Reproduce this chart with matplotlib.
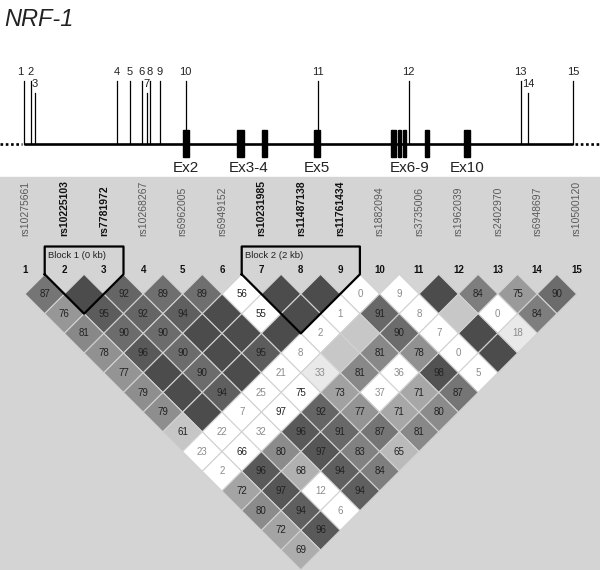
import numpy as np
import matplotlib.pyplot as plt
from matplotlib.patches import Polygon, Rectangle

plt.rcParams['font.family'] = ['Liberation Sans', 'DejaVu Sans']

# ---- gene diagram data (positions along the drawn gene line) ----
snp_pos = [23.7, 30.6, 34.8, 116.7, 130, 141.6, 146.6, 150, 160, 185.6,
           317.6, 408.7, 520.5, 528, 573]
snp_low = [3, 7, 14]          # snps whose label sits lower
exon_start = [182.5, 237, 262, 314, 391, 398, 402.6, 424.8, 464]
exon_end = [188.7, 244, 267, 320, 396, 401, 405.7, 428.6, 470]
exon_labels = ['Ex2', 'Ex3-4', 'Ex5', 'Ex6-9', 'Ex10']
exon_label_pos = [185.6, 249, 317, 409.5, 467.6]

# ---- LD plot data ----
rs_names = ['rs10275661', 'rs10225103', 'rs7781972', 'rs10268267', 'rs6962005',
            'rs6949152', 'rs10231985', 'rs11487138', 'rs11761434', 'rs1882094',
            'rs3735006', 'rs1962039', 'rs2402970', 'rs6948697', 'rs10500120']
bold_snps = [2, 3, 7, 8, 9]
blocks = [(2, 3, 'Block 1 (0 kb)'), (7, 9, 'Block 2 (2 kb)')]

# D' (x100) by SNP distance; 100 = D'=1 (no number shown)
dprime = [
    [87, 100, 92, 89, 89, 56, 100, 100, 0, 9, 100, 84, 75, 90],
    [76, 95, 92, 94, 100, 55, 100, 1, 91, 8, 100, 0, 84],
    [81, 90, 90, 100, 100, 100, 2, 100, 90, 7, 100, 18],
    [78, 96, 90, 100, 95, 8, 100, 81, 78, 0, 100],
    [77, 100, 90, 100, 21, 33, 81, 36, 98, 5],
    [79, 100, 94, 25, 75, 73, 37, 71, 87],
    [79, 100, 7, 97, 92, 77, 71, 80],
    [61, 22, 32, 96, 91, 87, 81],
    [23, 66, 80, 97, 83, 65],
    [2, 96, 68, 94, 84],
    [72, 97, 12, 94],
    [80, 94, 6],
    [72, 96],
    [69],
]
# LOD >= 2 flags, same layout
lod_high = [
    [1, 1, 1, 1, 1, 0, 1, 1, 0, 0, 1, 1, 1, 1],
    [1, 1, 1, 1, 1, 0, 1, 0, 1, 0, 0, 0, 1],
    [1, 1, 1, 1, 1, 1, 0, 0, 1, 0, 1, 1],
    [1, 1, 1, 1, 1, 0, 0, 1, 1, 0, 1],
    [1, 1, 1, 1, 0, 1, 1, 0, 1, 0],
    [1, 1, 1, 0, 0, 1, 0, 1, 1],
    [1, 1, 0, 0, 1, 1, 1, 1],
    [1, 0, 0, 1, 1, 1, 1],
    [0, 0, 1, 1, 1, 1],
    [0, 1, 1, 1, 1],
    [1, 1, 0, 1],
    [1, 1, 0],
    [1, 1],
    [1],
]


def cell_color(d, strong):
    # haploview standard scheme, shown in grey
    if not strong:
        return '#c7c7c7' if d == 100 else 'white'
    if d < 50:
        return '#e9e9e9'
    g = 223 * 2 * (1 - d / 100)
    lum = (0.299 * 255 + 0.701 * g) / 255
    return str(min(lum, 1))


fig = plt.figure(figsize=(6, 5.7), dpi=100)
ax = fig.add_axes([0, 0, 1, 1])
ax.set_xlim(0, 600)
ax.set_ylim(570, 0)
ax.axis('off')

ax.text(4, 19, 'NRF-1', fontsize=17, style='italic', va='center', ha='left', color='#222222')

# gene line
gene_y = 143.5
ax.plot([snp_pos[0], snp_pos[-1]], [gene_y, gene_y], color='black', lw=1.9, solid_capstyle='butt')
ax.plot([0, snp_pos[0] - 2], [gene_y, gene_y], color='black', lw=1.9, ls=(0, (1, 1)))
ax.plot([snp_pos[-1] + 2, 600], [gene_y, gene_y], color='black', lw=1.9, ls=(0, (1, 1)))
for s, e in zip(exon_start, exon_end):
    ax.add_patch(Rectangle((s, 129.5), e - s, 27.5, color='black', zorder=3))
for lab, xp in zip(exon_labels, exon_label_pos):
    ax.text(xp, 168, lab, fontsize=11, ha='center', va='center', color='#222222')

for n, xp in enumerate(snp_pos, start=1):
    top = 93 if n in snp_low else 81
    ax.plot([xp, xp], [gene_y, top], color='black', lw=0.9)
    lx = xp - 3 if n == 1 else xp
    ax.text(lx, top - 9, str(n), fontsize=8, ha='center', va='center', color='#222222')

# LD panel
ax.add_patch(Rectangle((0, 177), 600, 393, color='#d4d4d4', zorder=0))

x0, dx = 25, 39.4
h = dx / 2
y_top = 294 - h
xcol = [x0 + i * dx for i in range(len(rs_names))]

for i, name in enumerate(rs_names):
    b = (i + 1) in bold_snps
    ax.text(xcol[i], 236, name, rotation=90, ha='center', va='bottom', fontsize=7.5,
            fontweight='bold' if b else 'normal', color='#111111' if b else '#5a5a5a')
    ax.text(xcol[i], 270, str(i + 1), fontsize=7, fontweight='bold', ha='center',
            va='center', color='#111111')

for k, (row, lods) in enumerate(zip(dprime, lod_high), start=1):
    for i, (d, s) in enumerate(zip(row, lods)):
        j = i + k
        cx = (xcol[i] + xcol[j]) / 2
        cy = y_top + k * h
        verts = [(cx, cy - h), (cx + h, cy), (cx, cy + h), (cx - h, cy)]
        ax.add_patch(Polygon(verts, closed=True, facecolor=cell_color(d, s),
                             edgecolor='#d2d2d2', lw=0.8, zorder=2))
        if d < 100:
            ax.text(cx, cy, str(d), fontsize=7, ha='center', va='center',
                    color='#8c8c8c' if d < 50 else '#222222', zorder=4)

for a, b, lab in blocks:
    a0, b0 = a - 1, b - 1
    left, right = xcol[a0] - h, xcol[b0] + h
    bx = (xcol[a0] + xcol[b0]) / 2
    by = y_top + (b0 - a0 + 1) * h
    pts = [(left, y_top), (left, 246.5), (right, 246.5), (right, y_top), (bx, by), (left, y_top)]
    ax.plot([p[0] for p in pts], [p[1] for p in pts], color='black', lw=1.6, zorder=5)
    ax.text(left + 3, 256, lab, fontsize=6.8, ha='left', va='center', color='#222222', zorder=5)

fig.savefig('out.png', dpi=100)
